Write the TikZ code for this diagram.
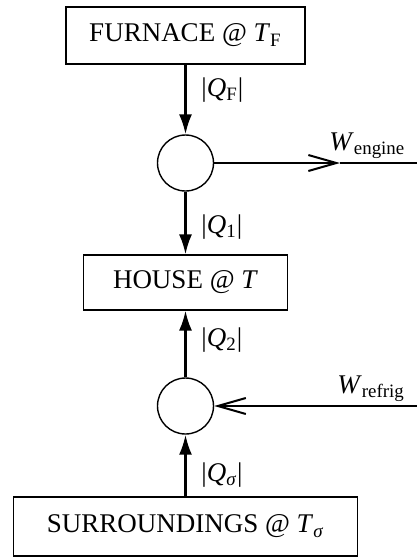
\documentclass[tikz,border=0pt]{standalone}
\usepackage{fontspec}
\setmainfont{Liberation Serif}
\usetikzlibrary{arrows.meta}
\tikzset{
	box/.style = {draw, line width = 0.6pt, inner sep = 0pt, font = \fontsize{13.5}{16}\selectfont},
	cycle/.style = {draw, circle, line width = 0.7pt, minimum size = 28pt, inner sep = 0pt},
	heat/.style = {line width = 1.2pt, -{Latex[length = 10pt, width = 6.5pt]}},
	work/.style = {line width = 1pt, -{Straight Barb[length = 14pt, width = 8pt]}},
	lbl/.style = {anchor = west, inner sep = 0pt, font = \fontsize{13.5}{16}\selectfont}
}
\begin{document}
\begin{tikzpicture} [x = 0.5pt, y = -0.5pt]
	\useasboundingbox (0,0) rectangle (417,559);
	\node [box, minimum width = 119.5pt, minimum height = 28.5pt] (furnace) at (185.5,35.5) {FURNACE @ \textit{T}\textsubscript{F}};
	\node [cycle] (engine) at (185.5,163) {};
	\node [box, minimum width = 102pt, minimum height = 27.5pt] (house) at (185.5,282.5) {HOUSE @ \textit{T}};
	\node [cycle] (refrig) at (185.5,406) {};
	\node [box, minimum width = 172pt, minimum height = 29.5pt] (surr) at (185.5,526.5) {SURROUNDINGS @ \textit{T}\textsubscript{\textit{σ}}};
	\coordinate (enghead) at (340,163);
	\coordinate (engend) at (417,163);
	\coordinate (refin) at (417,406);
	\draw [heat] (furnace) -- (engine);
	\draw [heat] (engine) -- (house);
	\draw [heat] (refrig) -- (house);
	\draw [heat] (surr) -- (refrig);
	\draw [work] (engine) -- (enghead);
	\draw [line width = 1pt] (enghead) -- (engend);
	\draw [work] (refin) -- (refrig);
	\node [lbl] (qf) at (201,90) {|\textit{Q}\textsubscript{F}|};
	\node [lbl] (q1) at (201,227) {|\textit{Q}\textsubscript{1}|};
	\node [lbl] (q2) at (201,340) {|\textit{Q}\textsubscript{2}|};
	\node [lbl] (qs) at (201,475) {|\textit{Q}\textsubscript{\textit{σ}}|};
	\node [lbl] (weng) at (329,146) {\textit{W}\textsubscript{engine}};
	\node [lbl] (wref) at (337,389) {\textit{W}\textsubscript{refrig}};
\end{tikzpicture}
\end{document}
